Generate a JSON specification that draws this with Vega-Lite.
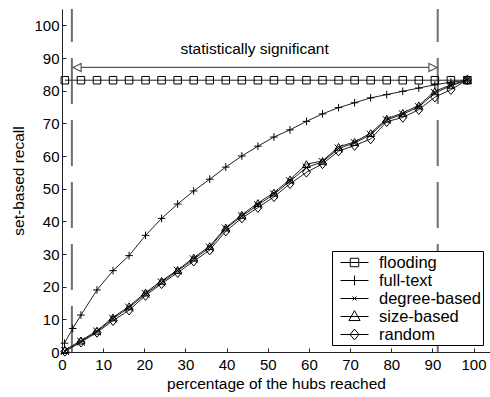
{
  "$schema": "https://vega.github.io/schema/vega-lite/v6.json",
  "width": 428,
  "height": 343,
  "autosize": {"type": "none"},
  "padding": {"left": 62, "top": 9, "right": 0, "bottom": 45},
  "config": {
    "font": "Liberation Sans",
    "view": {"stroke": null},
    "axis": {
      "grid": false,
      "domainColor": "#222",
      "domainWidth": 1,
      "tickColor": "#222",
      "tickSize": -4,
      "labelFontSize": 15,
      "labelColor": "black",
      "labelFlush": false,
      "labelOverlap": false,
      "titleFontSize": 15.5,
      "titleFontWeight": "normal",
      "titleColor": "black"
    }
  },
  "datasets": {
    "curves": [
      {"series": "flooding", "x": 0.7, "y": 83.2},
      {"series": "flooding", "x": 4.6, "y": 83.2},
      {"series": "flooding", "x": 8.5, "y": 83.2},
      {"series": "flooding", "x": 12.4, "y": 83.2},
      {"series": "flooding", "x": 16.3, "y": 83.2},
      {"series": "flooding", "x": 20.3, "y": 83.2},
      {"series": "flooding", "x": 24.2, "y": 83.2},
      {"series": "flooding", "x": 28.1, "y": 83.2},
      {"series": "flooding", "x": 32.0, "y": 83.2},
      {"series": "flooding", "x": 35.9, "y": 83.2},
      {"series": "flooding", "x": 39.8, "y": 83.2},
      {"series": "flooding", "x": 43.7, "y": 83.2},
      {"series": "flooding", "x": 47.6, "y": 83.2},
      {"series": "flooding", "x": 51.5, "y": 83.2},
      {"series": "flooding", "x": 55.4, "y": 83.2},
      {"series": "flooding", "x": 59.4, "y": 83.2},
      {"series": "flooding", "x": 63.3, "y": 83.2},
      {"series": "flooding", "x": 67.2, "y": 83.2},
      {"series": "flooding", "x": 71.1, "y": 83.2},
      {"series": "flooding", "x": 75.0, "y": 83.2},
      {"series": "flooding", "x": 78.9, "y": 83.2},
      {"series": "flooding", "x": 82.8, "y": 83.2},
      {"series": "flooding", "x": 86.7, "y": 83.2},
      {"series": "flooding", "x": 90.6, "y": 83.2},
      {"series": "flooding", "x": 94.5, "y": 83.2},
      {"series": "flooding", "x": 98.5, "y": 83.2},

      {"series": "full-text", "x": 0.6, "y": 2.7},
      {"series": "full-text", "x": 2.6, "y": 7.2},
      {"series": "full-text", "x": 4.6, "y": 11.3},
      {"series": "full-text", "x": 8.5, "y": 19.0},
      {"series": "full-text", "x": 12.4, "y": 24.9},
      {"series": "full-text", "x": 16.3, "y": 29.5},
      {"series": "full-text", "x": 20.3, "y": 35.7},
      {"series": "full-text", "x": 24.2, "y": 40.9},
      {"series": "full-text", "x": 28.1, "y": 45.3},
      {"series": "full-text", "x": 32.0, "y": 49.3},
      {"series": "full-text", "x": 35.9, "y": 52.9},
      {"series": "full-text", "x": 39.8, "y": 56.6},
      {"series": "full-text", "x": 43.7, "y": 60.0},
      {"series": "full-text", "x": 47.6, "y": 63.0},
      {"series": "full-text", "x": 51.5, "y": 65.8},
      {"series": "full-text", "x": 55.4, "y": 68.0},
      {"series": "full-text", "x": 59.4, "y": 70.6},
      {"series": "full-text", "x": 63.3, "y": 72.9},
      {"series": "full-text", "x": 67.2, "y": 74.8},
      {"series": "full-text", "x": 71.1, "y": 76.3},
      {"series": "full-text", "x": 75.0, "y": 77.8},
      {"series": "full-text", "x": 78.9, "y": 78.8},
      {"series": "full-text", "x": 82.8, "y": 79.8},
      {"series": "full-text", "x": 86.7, "y": 80.8},
      {"series": "full-text", "x": 90.6, "y": 81.8},
      {"series": "full-text", "x": 94.5, "y": 82.6},
      {"series": "full-text", "x": 98.5, "y": 83.2},

      {"series": "degree-based", "x": 0.7, "y": 0.3},
      {"series": "degree-based", "x": 4.6, "y": 3.2},
      {"series": "degree-based", "x": 8.5, "y": 6.3},
      {"series": "degree-based", "x": 12.4, "y": 10.2},
      {"series": "degree-based", "x": 16.3, "y": 13.6},
      {"series": "degree-based", "x": 20.3, "y": 17.8},
      {"series": "degree-based", "x": 24.2, "y": 21.3},
      {"series": "degree-based", "x": 28.1, "y": 24.9},
      {"series": "degree-based", "x": 32.0, "y": 28.4},
      {"series": "degree-based", "x": 35.9, "y": 32.0},
      {"series": "degree-based", "x": 39.8, "y": 37.8},
      {"series": "degree-based", "x": 43.7, "y": 41.6},
      {"series": "degree-based", "x": 47.6, "y": 45.0},
      {"series": "degree-based", "x": 51.5, "y": 48.3},
      {"series": "degree-based", "x": 55.4, "y": 52.3},
      {"series": "degree-based", "x": 59.4, "y": 56.5},
      {"series": "degree-based", "x": 63.3, "y": 58.2},
      {"series": "degree-based", "x": 67.2, "y": 62.3},
      {"series": "degree-based", "x": 71.1, "y": 64.0},
      {"series": "degree-based", "x": 75.0, "y": 66.5},
      {"series": "degree-based", "x": 78.9, "y": 71.0},
      {"series": "degree-based", "x": 82.8, "y": 72.8},
      {"series": "degree-based", "x": 86.7, "y": 75.0},
      {"series": "degree-based", "x": 90.6, "y": 79.3},
      {"series": "degree-based", "x": 94.5, "y": 81.5},
      {"series": "degree-based", "x": 98.5, "y": 83.2},

      {"series": "size-based", "x": 0.7, "y": 0.6},
      {"series": "size-based", "x": 4.6, "y": 3.5},
      {"series": "size-based", "x": 8.5, "y": 6.5},
      {"series": "size-based", "x": 12.4, "y": 10.6},
      {"series": "size-based", "x": 16.3, "y": 14.0},
      {"series": "size-based", "x": 20.3, "y": 18.2},
      {"series": "size-based", "x": 24.2, "y": 21.8},
      {"series": "size-based", "x": 28.1, "y": 25.1},
      {"series": "size-based", "x": 32.0, "y": 28.9},
      {"series": "size-based", "x": 35.9, "y": 32.4},
      {"series": "size-based", "x": 39.8, "y": 38.1},
      {"series": "size-based", "x": 43.7, "y": 42.0},
      {"series": "size-based", "x": 47.6, "y": 45.6},
      {"series": "size-based", "x": 51.5, "y": 48.8},
      {"series": "size-based", "x": 55.4, "y": 52.8},
      {"series": "size-based", "x": 59.4, "y": 57.5},
      {"series": "size-based", "x": 63.3, "y": 58.5},
      {"series": "size-based", "x": 67.2, "y": 62.8},
      {"series": "size-based", "x": 71.1, "y": 64.3},
      {"series": "size-based", "x": 75.0, "y": 67.0},
      {"series": "size-based", "x": 78.9, "y": 71.4},
      {"series": "size-based", "x": 82.8, "y": 73.2},
      {"series": "size-based", "x": 86.7, "y": 75.5},
      {"series": "size-based", "x": 90.6, "y": 79.8},
      {"series": "size-based", "x": 94.5, "y": 81.8},
      {"series": "size-based", "x": 98.5, "y": 83.3},

      {"series": "random", "x": 0.7, "y": 0.2},
      {"series": "random", "x": 4.6, "y": 3.0},
      {"series": "random", "x": 8.5, "y": 6.0},
      {"series": "random", "x": 12.4, "y": 9.6},
      {"series": "random", "x": 16.3, "y": 12.8},
      {"series": "random", "x": 20.3, "y": 17.3},
      {"series": "random", "x": 24.2, "y": 20.9},
      {"series": "random", "x": 28.1, "y": 24.3},
      {"series": "random", "x": 32.0, "y": 27.8},
      {"series": "random", "x": 35.9, "y": 31.2},
      {"series": "random", "x": 39.8, "y": 37.0},
      {"series": "random", "x": 43.7, "y": 41.0},
      {"series": "random", "x": 47.6, "y": 44.2},
      {"series": "random", "x": 51.5, "y": 47.5},
      {"series": "random", "x": 55.4, "y": 51.5},
      {"series": "random", "x": 59.4, "y": 55.0},
      {"series": "random", "x": 63.3, "y": 57.6},
      {"series": "random", "x": 67.2, "y": 61.5},
      {"series": "random", "x": 71.1, "y": 63.2},
      {"series": "random", "x": 75.0, "y": 65.2},
      {"series": "random", "x": 78.9, "y": 70.5},
      {"series": "random", "x": 82.8, "y": 71.8},
      {"series": "random", "x": 86.7, "y": 74.2},
      {"series": "random", "x": 90.6, "y": 78.0},
      {"series": "random", "x": 94.5, "y": 80.3},
      {"series": "random", "x": 98.5, "y": 83.3}
    ]
  },
  "encoding": {
    "x": {
      "field": "x",
      "type": "quantitative",
      "scale": {"domain": [0, 104], "nice": false, "zero": false},
      "axis": {
        "title": "percentage of the hubs reached",
        "values": [0, 10, 20, 30, 40, 50, 60, 70, 80, 90, 100],
        "labelPadding": 9,
        "titlePadding": 4
      }
    },
    "y": {
      "field": "y",
      "type": "quantitative",
      "scale": {"domain": [0, 105], "nice": false, "zero": false},
      "axis": {
        "title": "set-based recall",
        "values": [0, 10, 20, 30, 40, 50, 60, 70, 80, 90, 100],
        "labelPadding": 7,
        "titlePadding": 7
      }
    }
  },
  "layer": [
    {
      "data": {"values": [{"x": 2.4, "y": 0, "y2": 105}, {"x": 91.3, "y": 0, "y2": 105}]},
      "mark": {"type": "rule", "color": "#6e6e6e", "strokeWidth": 2, "strokeDash": [46, 16]},
      "encoding": {"y2": {"field": "y2"}}
    },
    {
      "data": {"values": [{"x": 2.7, "x2": 91.1, "y": 87.1}]},
      "mark": {"type": "rule", "color": "#555", "strokeWidth": 1.2},
      "encoding": {"x2": {"field": "x2"}}
    },
    {
      "data": {"values": [{"x": 2.7, "y": 87.1}]},
      "mark": {"type": "point", "shape": "M0,0L2,-1L2,1Z", "size": 64, "filled": true, "fill": "white", "stroke": "#555", "strokeWidth": 1.2, "opacity": 1}
    },
    {
      "data": {"values": [{"x": 91.1, "y": 87.1}]},
      "mark": {"type": "point", "shape": "M0,0L-2,-1L-2,1Z", "size": 64, "filled": true, "fill": "white", "stroke": "#555", "strokeWidth": 1.2, "opacity": 1}
    },
    {
      "data": {"values": [{"x": 46.8, "y": 91.2, "label": "statistically significant"}]},
      "mark": {"type": "text", "fontSize": 15.5, "color": "black", "baseline": "alphabetic", "align": "center"},
      "encoding": {"text": {"field": "label"}}
    },
    {
      "data": {"name": "curves"},
      "mark": {"type": "line", "color": "#222", "strokeWidth": 1},
      "encoding": {"detail": {"field": "series"}}
    },
    {
      "data": {"name": "curves"},
      "mark": {"type": "point", "color": "black", "filled": false, "strokeWidth": 1, "opacity": 1},
      "encoding": {
        "shape": {
          "field": "series",
          "scale": {
            "domain": ["flooding", "full-text", "degree-based", "size-based", "random"],
            "range": ["square", "M-1,0L1,0M0,-1L0,1", "M-1,-1L1,1M-1,1L1,-1", "triangle-up", "M-1,0L0,-1.2L1,0L0,1.2Z"]
          },
          "legend": null
        },
        "size": {
          "field": "series",
          "type": "nominal",
          "scale": {
            "domain": ["flooding", "full-text", "degree-based", "size-based", "random"],
            "range": [56, 64, 25, 81, 64]
          },
          "legend": null
        }
      }
    },
    {
      "data": {"values": [
        {"series": "flooding", "x": 50, "y": 50},
        {"series": "full-text", "x": 50, "y": 50},
        {"series": "degree-based", "x": 50, "y": 50},
        {"series": "size-based", "x": 50, "y": 50},
        {"series": "random", "x": 50, "y": 50}
      ]},
      "mark": {"type": "point", "color": "black", "filled": false, "strokeWidth": 1, "size": 324, "opacity": 0},
      "encoding": {
        "shape": {
          "field": "series",
          "scale": {
            "domain": ["flooding", "full-text", "degree-based", "size-based", "random"],
            "range": [
              "M-1.556,0L1.556,0M-0.47,-0.47L0.47,-0.47L0.47,0.47L-0.47,0.47Z",
              "M-1.556,0L1.556,0M0,-0.55L0,0.55",
              "M-1.556,0L1.556,0M-0.22,-0.22L0.22,0.22M-0.22,0.22L0.22,-0.22",
              "M-1.556,0L1.556,0M0,-0.65L-0.62,0.45L0.62,0.45Z",
              "M-1.556,0L1.556,0M-0.5,0L0,-0.6L0.5,0L0,0.6Z"
            ]
          },
          "legend": {
            "orient": "none",
            "legendX": 270,
            "legendY": 242,
            "title": null,
            "padding": 2,
            "strokeColor": "black",
            "fillColor": "white",
            "labelFontSize": 16.5,
            "labelColor": "black",
            "labelFont": "Liberation Sans",
            "rowPadding": 0,
            "symbolOffset": 11,
            "labelOffset": 15,
            "symbolStrokeWidth": 1,
            "symbolStrokeColor": "black",
            "symbolFillColor": "transparent",
            "symbolSize": 324
          }
        }
      }
    }
  ],
  "resolve": {"scale": {"shape": "independent"}, "legend": {"shape": "independent"}}
}
